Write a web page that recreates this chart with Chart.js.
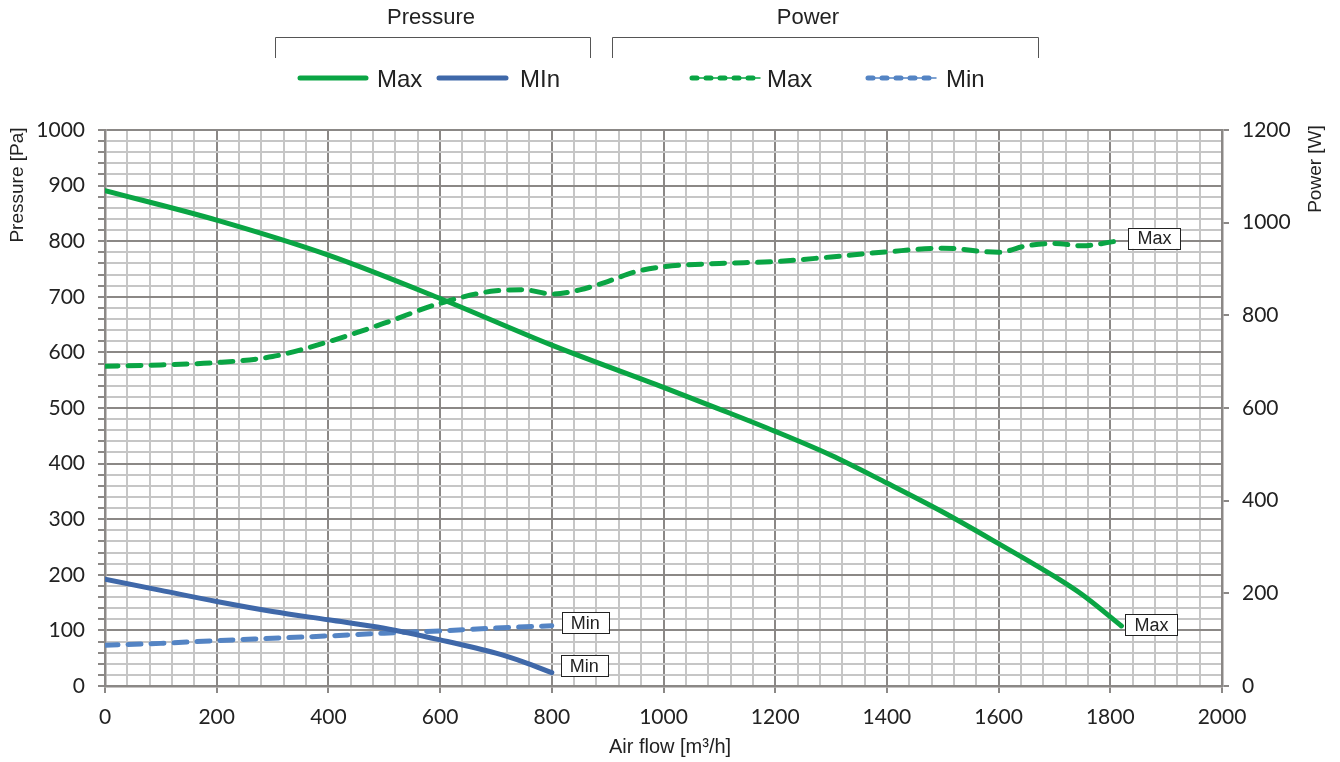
<!DOCTYPE html>
<html>
<head>
<meta charset="utf-8">
<script src="https://cdn.jsdelivr.net/npm/chart.js@4"></script>
<style>
html, body { margin: 0; padding: 0; background: #fff; }
#wrap { width: 1340px; height: 762px; }
</style>
</head>
<body>
<div id="wrap"><canvas id="fanChart" width="1340" height="762"></canvas></div>
<script>
// air flow [m3/h] -> pressure [Pa] / power [W]
var flowPresMax = [0, 200, 400, 600, 800, 1000, 1100, 1200, 1300, 1400, 1500, 1600, 1700, 1750, 1820];
var presMax     = [891, 838, 775, 697, 613, 537, 498, 458, 415, 365, 313, 256, 197, 164, 108];

var flowPresMin = [0, 100, 200, 300, 400, 500, 600, 700, 750, 800];
var presMin     = [192, 172, 152, 134, 119, 104, 83, 59, 43, 24];

var flowPowMax = [0, 100, 200, 300, 400, 500, 600, 700, 750, 800, 850, 900, 950, 1000, 1100, 1200, 1300, 1400, 1500, 1600, 1650, 1700, 1750, 1800, 1820];
var powMax     = [690, 693, 698, 711, 743, 783, 826, 853, 855, 846, 855, 873, 894, 905, 912, 916, 926, 937, 945, 936, 950, 955, 950, 958, 962];

var flowPowMin = [0, 100, 200, 300, 400, 500, 600, 700, 800];
var powMin     = [88, 92, 98, 103, 108, 114, 119, 125, 130];

var xTicks = [0, 200, 400, 600, 800, 1000, 1200, 1400, 1600, 1800, 2000];

var GREEN = '#0aa544';
var BLUE = '#3f68a9';
var BLUE_L = '#5484c4';
var MAJOR = '#8b8886';
var MINOR = '#c6c6c6';

function pts(xs, ys) {
  return xs.map(function (x, i) { return { x: x, y: ys[i] }; });
}

// group headers, legend and end labels (Excel-like)
var decorPlugin = {
  id: 'decor',
  afterDatasetsDraw: function (chart) {
    var c = chart.ctx;
    c.save();
    // end-of-curve labels
    var tags = [
      { ds: 0, text: 'Max', dx: 4, dy: -1 },
      { ds: 1, text: 'Min', dx: 9, dy: -7 },
      { ds: 2, text: 'Max', dx: 7, dy: -2 },
      { ds: 3, text: 'Min', dx: 10, dy: -3 }
    ];
    c.font = '18px "Liberation Sans", Arial, sans-serif';
    tags.forEach(function (t) {
      var meta = chart.getDatasetMeta(t.ds);
      var p = meta.data[meta.data.length - 1];
      var w = c.measureText(t.text).width + 18;
      var h = 21;
      var x = p.x + t.dx, y = p.y + t.dy - h / 2;
      c.fillStyle = '#fff';
      c.fillRect(x, y, w, h);
      c.strokeStyle = '#222';
      c.lineWidth = 1;
      c.strokeRect(Math.round(x) + 0.5, Math.round(y) + 0.5, Math.round(w), h);
      c.fillStyle = '#222';
      c.textAlign = 'center';
      c.textBaseline = 'middle';
      c.fillText(t.text, x + w / 2, y + h / 2 + 1);
    });
    c.restore();
  },
  afterDraw: function (chart) {
    var c = chart.ctx;
    c.save();
    c.fillStyle = '#222';
    c.textBaseline = 'middle';
    c.textAlign = 'center';
    c.font = '22px "Liberation Sans", Arial, sans-serif';
    c.fillText('Pressure', 431, 18);
    c.fillText('Power', 808, 18);

    c.strokeStyle = '#555';
    c.lineWidth = 1;
    [[275, 590], [612, 1038]].forEach(function (b) {
      c.beginPath();
      c.moveTo(b[0] + 0.5, 58);
      c.lineTo(b[0] + 0.5, 37.5);
      c.lineTo(b[1] + 0.5, 37.5);
      c.lineTo(b[1] + 0.5, 58);
      c.stroke();
    });

    // legend
    var items = [
      { ds: 0, x0: 300, x1: 366, tx: 377, label: 'Max' },
      { ds: 1, x0: 439, x1: 506, tx: 520, label: 'MIn' },
      { ds: 2, x0: 692, x1: 760, tx: 767, label: 'Max' },
      { ds: 3, x0: 868, x1: 936, tx: 946, label: 'Min' }
    ];
    c.font = '24px "Liberation Sans", Arial, sans-serif';
    c.textAlign = 'left';
    items.forEach(function (it) {
      var ds = chart.data.datasets[it.ds];
      c.strokeStyle = ds.borderColor;
      c.lineWidth = 5;
      c.lineCap = 'round';
      c.setLineDash(ds.borderDash ? [5, 9] : []);
      c.beginPath();
      c.moveTo(it.x0, 78);
      c.lineTo(it.x1, 78);
      c.stroke();
      if (ds.borderDash) {
        c.setLineDash([]);
        c.lineWidth = 1.5;
        c.beginPath();
        c.moveTo(it.x0, 78);
        c.lineTo(it.x1, 78);
        c.stroke();
      }
      c.fillStyle = '#222';
      c.fillText(it.label, it.tx, 80);
    });
    c.setLineDash([]);

    // axis titles
    c.font = '20px "Liberation Sans Narrow", "Liberation Sans", Arial, sans-serif';
    c.fillStyle = '#222';
    c.textAlign = 'center';
    c.fillText('Air flow [m\u00b3/h]', 670, 747);
    c.font = '19px "Liberation Sans Narrow", "Liberation Sans", Arial, sans-serif';
    c.save();
    c.translate(18, 185);
    c.rotate(-Math.PI / 2);
    c.fillText('Pressure [Pa]', 0, 0);
    c.restore();
    c.save();
    c.translate(1316, 169);
    c.rotate(-Math.PI / 2);
    c.fillText('Power [W]', 0, 0);
    c.restore();
    c.restore();
  }
};

var tickFont = { family: 'Lato, "Liberation Sans", sans-serif', size: 21 };

var ctxF = document.getElementById('fanChart').getContext('2d');
var fanChart = new Chart(ctxF, {
  type: 'line',
  data: {
    datasets: [
      {
        label: 'Pressure Max', data: pts(flowPresMax, presMax), yAxisID: 'y',
        borderColor: GREEN, borderWidth: 5, order: 1
      },
      {
        label: 'Pressure Min', data: pts(flowPresMin, presMin), yAxisID: 'y',
        borderColor: BLUE, borderWidth: 5, order: 2
      },
      {
        label: 'Power Max', data: pts(flowPowMax, powMax), yAxisID: 'y1',
        borderColor: GREEN, borderWidth: 5, borderDash: [13, 10], order: 3
      },
      {
        label: 'Power Min', data: pts(flowPowMin, powMin), yAxisID: 'y1',
        borderColor: BLUE_L, borderWidth: 5, borderDash: [13, 10], order: 4
      }
    ]
  },
  options: {
    responsive: false,
    animation: false,
    devicePixelRatio: 1,
    layout: { padding: { top: 130, left: 0, right: 0, bottom: 0 } },
    elements: {
      point: { radius: 0, hoverRadius: 0 },
      line: { cubicInterpolationMode: 'monotone', borderCapStyle: 'round', fill: false }
    },
    plugins: { legend: { display: false }, tooltip: { enabled: false } },
    scales: {
      x: {
        type: 'linear', min: 0, max: 2000,
        afterFit: function (s) { s.height = 76; },
        ticks: {
          stepSize: 40, autoSkip: false, maxRotation: 0, padding: 12,
          color: '#222', font: tickFont,
          callback: function (v) { return xTicks.indexOf(v) >= 0 ? v : ''; }
        },
        grid: {
          lineWidth: 2, tickLength: 7,
          color: function (ctx) { return ctx.tick && ctx.tick.value % 200 === 0 ? MAJOR : MINOR; },
          tickColor: function (ctx) { return ctx.tick && ctx.tick.value % 200 === 0 ? MAJOR : 'rgba(0,0,0,0)'; }
        },
        border: { color: MAJOR, width: 2.5 }
      },
      y: {
        position: 'left', min: 0, max: 1000,
        afterFit: function (s) { s.width = 105; },
        ticks: {
          stepSize: 20, autoSkip: false, padding: 13,
          color: '#222', font: tickFont,
          callback: function (v) { return v % 100 === 0 ? v : ''; }
        },
        grid: {
          lineWidth: 2, tickLength: 7,
          color: function (ctx) { return ctx.tick && ctx.tick.value % 100 === 0 ? MAJOR : MINOR; },
          tickColor: MAJOR
        },
        border: { color: MAJOR, width: 2.5 }
      },
      y1: {
        position: 'right', min: 0, max: 1200,
        afterFit: function (s) { s.width = 118; },
        ticks: {
          stepSize: 200, autoSkip: false, padding: 13, color: '#222', font: tickFont,
          callback: function (v) { return String(v); }
        },
        grid: { drawOnChartArea: false, lineWidth: 2, tickLength: 7, tickColor: MAJOR },
        border: { color: MAJOR, width: 2.5 }
      }
    }
  },
  plugins: [decorPlugin]
});
</script>
</body>
</html>
